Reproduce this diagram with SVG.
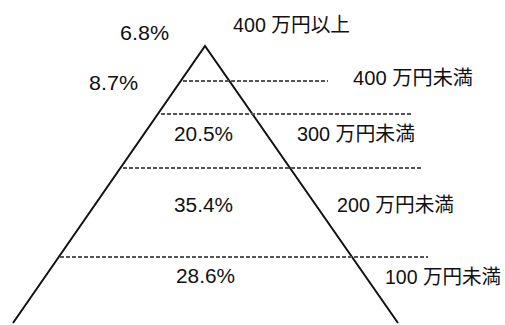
<svg xmlns="http://www.w3.org/2000/svg" width="505" height="325" viewBox="0 0 505 325">
<style>
.t{font-family:"Liberation Sans","Noto Sans CJK JP",sans-serif;font-size:20px;fill:#111}
.d{stroke:#555;stroke-width:2;stroke-dasharray:4 2;fill:none}
.s{stroke:#111;stroke-width:2;fill:none}
</style>
<rect width="505" height="325" fill="#fff"/>
<g id="connectors">
<path class="s" d="M13,323 L205,46 L398,323"/>
<line class="d" x1="183" y1="81" x2="328" y2="81"/>
<line class="d" x1="161" y1="114" x2="413" y2="114"/>
<line class="d" x1="123" y1="168" x2="422" y2="168"/>
<line class="d" x1="60" y1="257" x2="428" y2="257"/>
</g>
<g id="n1"><text class="t" x="120" y="40" textLength="49" lengthAdjust="spacingAndGlyphs">6.8%</text><text class="t" x="233" y="32" textLength="117" lengthAdjust="spacingAndGlyphs">400 万円以上</text></g>
<g id="n2"><text class="t" x="89" y="90" textLength="49" lengthAdjust="spacingAndGlyphs">8.7%</text><text class="t" x="353" y="85" textLength="120" lengthAdjust="spacingAndGlyphs">400 万円未満</text></g>
<g id="n3"><text class="t" x="174" y="141" textLength="59" lengthAdjust="spacingAndGlyphs">20.5%</text><text class="t" x="297" y="141" textLength="118" lengthAdjust="spacingAndGlyphs">300 万円未満</text></g>
<g id="n4"><text class="t" x="174" y="212" textLength="59" lengthAdjust="spacingAndGlyphs">35.4%</text><text class="t" x="337" y="212" textLength="117" lengthAdjust="spacingAndGlyphs">200 万円未満</text></g>
<g id="n5"><text class="t" x="176" y="283" textLength="59" lengthAdjust="spacingAndGlyphs">28.6%</text><text class="t" x="385" y="284" textLength="116" lengthAdjust="spacingAndGlyphs">100 万円未満</text></g>
</svg>
